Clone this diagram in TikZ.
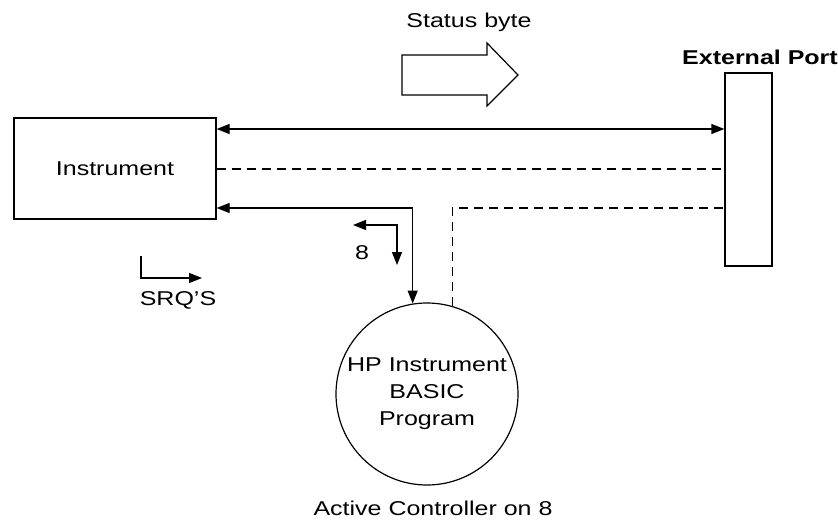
\documentclass[tikz,border=0pt]{standalone}
\usepackage{fontspec}
\setmainfont{Liberation Sans}[FakeStretch=1.25]
\usetikzlibrary{arrows.meta}
\begin{document}
\begin{tikzpicture}[x=1pt,y=-1pt, line width=1.2pt,
  tipend/.style={-{Triangle[length=13pt,width=10pt]}},
  bothend/.style={{Triangle[length=13pt,width=10pt]}-{Triangle[length=13pt,width=10pt]}},
  dsh/.style={dash pattern=on 9pt off 6pt, line width=1.5pt},
  lbl/.style={font=\fontsize{20}{24}\selectfont, inner sep=0pt},
  boxnode/.style={draw, inner sep=0pt}]
\useasboundingbox (0,0) rectangle (838,522);
% nodes
\node[boxnode, lbl, minimum width=202pt, minimum height=101pt] (inst) at (115,168.5) {Instrument};
\node[boxnode, minimum width=47pt, minimum height=193pt] (ext) at (748.5,169.5) {};
\node[draw, circle, minimum size=182pt, inner sep=0pt, align=center,
      font=\fontsize{20}{27}\selectfont] (prog) at (427,394) {HP Instrument\\BASIC\\Program};
\node[lbl] (status) at (469,22) {Status byte};
\node[lbl, font=\fontsize{20}{24}\selectfont\bfseries] (extlbl) at (760,57) {External Port};
\node[lbl] (eight) at (362,253) {8};
\node[lbl] (srq) at (178,300) {SRQ'S};
\node[lbl] (active) at (433,508) {Active Controller on 8};
% block arrow
\draw (402,55) -- (487,55) -- (487,43) -- (518,75) -- (487,106) -- (487,95) -- (402,95) -- cycle;
% connectors
\draw[bothend] (inst.east |- 0,129) -- (ext.west |- 0,129);
\draw[dsh] (inst.east |- 0,169) -- (ext.west |- 0,169);
\draw[bothend] (inst.east |- 0,208) -| (prog.99.5);
\draw[dsh] (prog.74) |- (ext.west |- 0,208);
\coordinate (e1) at (353,225);
\coordinate (e2) at (397,265);
\draw[bothend] (e1) -| (e2);
\coordinate (s1) at (141,256);
\coordinate (s2) at (202,278);
\draw[tipend] (s1) |- (s2);
\end{tikzpicture}
\end{document}
